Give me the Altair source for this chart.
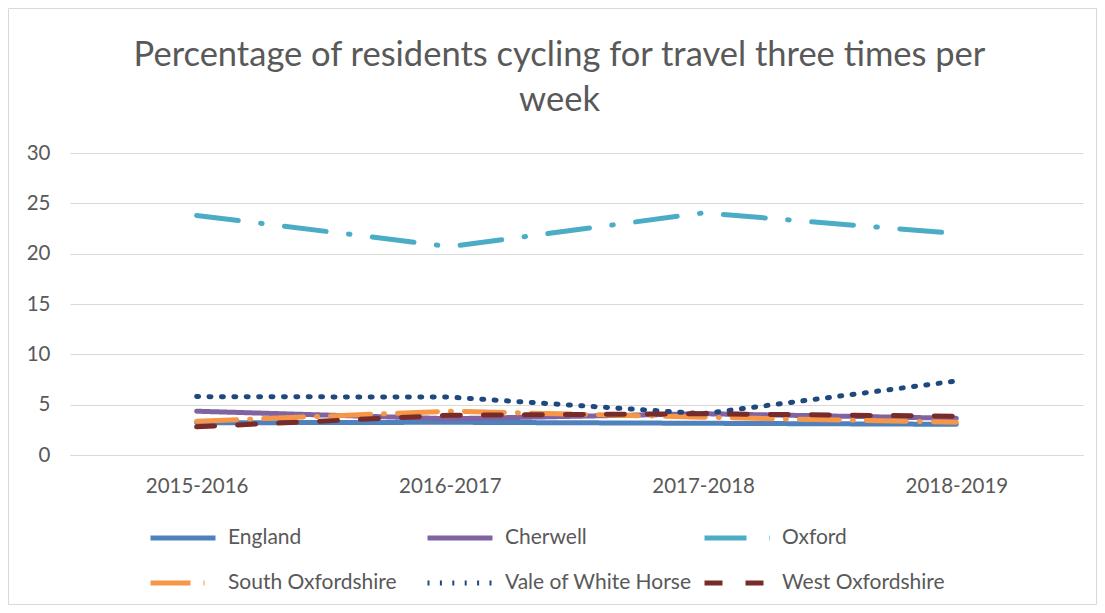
import altair as alt
import pandas as pd

periods = ["2015-2016", "2016-2017", "2017-2018", "2018-2019"]
series_names = ["England", "Cherwell", "Oxford", "South Oxfordshire",
                "Vale of White Horse", "West Oxfordshire"]
england = [3.2, 3.25, 3.15, 3.05]
cherwell = [4.35, 3.6, 4.1, 3.65]
oxford = [23.8, 20.7, 24.05, 22.0]
south_oxon = [3.35, 4.35, 3.75, 3.25]
vale = [5.8, 5.75, 4.1, 7.35]
west_oxon = [2.8, 3.95, 4.1, 3.85]
y_ticks = [0, 5, 10, 15, 20, 25, 30]

colors = ["#4F81BD", "#8064A2", "#4BACC6", "#F79646", "#1F497D", "#772C2A"]
dashes = [[1, 0], [1, 0], [42, 22.5, 1.5, 22.5], [40, 13, 1, 13], [2, 10.4], [18, 23]]

rows = []
for name, vals in zip(series_names, [england, cherwell, oxford, south_oxon, vale, west_oxon]):
    for p, v in zip(periods, vals):
        rows.append({"period": p, "series": name, "value": v})
df = pd.DataFrame(rows)

grey = "#595959"
font = "Lato"

legend = alt.Legend(
    title=None, orient="none", legendX=78, legendY=375, columns=3,
    direction="horizontal",
    symbolType="stroke", symbolSize=4225, symbolStrokeWidth=5,
    clipHeight=20, labelFontSize=21, labelColor=grey, labelFont=font,
    gridAlign="all", columnPadding=10, rowPadding=24, labelOffset=10,
    labelLimit=300,
)

lines = alt.Chart(df).mark_line(strokeWidth=5, strokeCap="round", strokeJoin="round").encode(
    x=alt.X("period:N", sort=periods, title=None,
            axis=alt.Axis(labelAngle=0, ticks=False, grid=False, domainColor="#d9d9d9",
                          labelFontSize=20.5, labelColor=grey, labelFont=font, labelPadding=21)),
    y=alt.Y("value:Q", title=None, scale=alt.Scale(domain=[0, 30], nice=False),
            axis=alt.Axis(values=y_ticks, ticks=False, domain=False, gridColor="#d9d9d9",
                          labelFontSize=20.5, labelColor=grey, labelFont=font, labelPadding=20)),
    color=alt.Color("series:N", sort=series_names,
                    scale=alt.Scale(domain=series_names, range=colors), legend=legend),
    strokeDash=alt.StrokeDash("series:N", sort=series_names,
                              scale=alt.Scale(domain=series_names, range=dashes), legend=legend),
    order=alt.Order("period:N"),
)

border = alt.Chart(pd.DataFrame({"a": [0]})).mark_rect(
    fill=None, stroke="#d9d9d9", strokeWidth=1
).encode(x=alt.value(-61.5), x2=alt.value(1026.5), y=alt.value(-144.5), y2=alt.value(451.5))

chart = alt.layer(border, lines).properties(
    width=1013, height=302,
    autosize=alt.AutoSizeParams(type="none"),
    padding={"left": 62, "top": 145, "right": 14, "bottom": 150},
    title=alt.TitleParams(
        text=["Percentage of residents cycling for travel three times per", "week"],
        fontSize=34.5, font=font, color=grey, fontWeight="normal", anchor="middle",
        frame="group", lineHeight=45, offset=-110, dx=-17,
    ),
).configure(background="white").configure_view(stroke=None)

chart.save("out.html", embed_options={"renderer": "svg", "actions": False})
